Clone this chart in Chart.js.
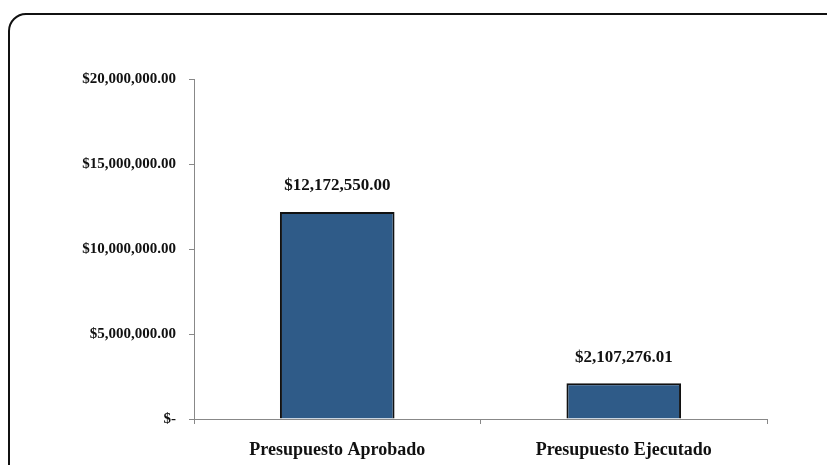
<!DOCTYPE html>
<html>
<head>
<meta charset="utf-8">
<script src="https://cdn.jsdelivr.net/npm/chart.js@4"></script>
<style>
  html, body { margin: 0; padding: 0; background: #fff; }
  #wrap { position: relative; width: 827px; height: 465px; overflow: hidden; }
  #marco { position: absolute; left: 8px; top: 13px; width: 840px; height: 470px;
           border: 2px solid #111; border-radius: 18px; box-sizing: border-box; }
  #miGrafica { position: absolute; left: 0; top: 0; }
</style>
</head>
<body>
<div id="wrap">
  <div id="marco"></div>
  <canvas id="miGrafica" width="827" height="465"></canvas>
</div>
<script>
// datos de la grafica
var categorias = ["Presupuesto Aprobado", "Presupuesto Ejecutado"];
var valores = [12172550.00, 2107276.01];
var ticksY = [0, 5000000, 10000000, 15000000, 20000000];

var fuente = "'Liberation Serif', 'DejaVu Serif', serif";

function moneda(v) {
    if (v === 0) return "$-";
    return "$" + v.toLocaleString("en-US", { minimumFractionDigits: 2, maximumFractionDigits: 2 });
}

// etiquetas encima de cada barra
var etiquetas = {
    id: "etiquetas",
    afterDatasetsDraw: function(chart) {
        var ctx = chart.ctx;
        var meta = chart.getDatasetMeta(0);
        ctx.save();
        ctx.font = "bold 17px " + fuente;
        ctx.fillStyle = "#111";
        ctx.textAlign = "center";
        ctx.textBaseline = "middle";
        meta.data.forEach(function(bar, i) {
            ctx.fillText(moneda(valores[i]), bar.x, bar.y - 26);
        });
        ctx.restore();
    }
};

document.addEventListener("DOMContentLoaded", function() {
    var ctx = document.getElementById("miGrafica").getContext("2d");

    var myChart = new Chart(ctx, {
        type: "bar",
        data: {
            labels: categorias,
            datasets: [{
                data: valores,
                backgroundColor: "#2f5b88",
                borderColor: "#111",
                borderWidth: 2,
                barPercentage: 0.8,
                categoryPercentage: 0.5
            }]
        },
        options: {
            responsive: false,
            animation: false,
            layout: { padding: { top: 79, right: 60, left: 0, bottom: 0 } },
            plugins: {
                legend: { display: false },
                tooltip: { enabled: false }
            },
            scales: {
                y: {
                    min: 0,
                    max: 20000000,
                    afterFit: function(s) { s.width = 194; },
                    afterBuildTicks: function(s) {
                        s.ticks = ticksY.map(function(v) { return { value: v }; });
                    },
                    grid: { drawOnChartArea: false, drawTicks: true, tickLength: 5, color: "#888" },
                    border: { display: true, color: "#888", width: 1 },
                    ticks: {
                        padding: 13,
                        color: "#111",
                        font: { family: fuente, size: 15, weight: "bold" },
                        callback: function(v) { return moneda(v); }
                    }
                },
                x: {
                    afterFit: function(s) { s.height = 46; },
                    grid: { drawOnChartArea: false, drawTicks: true, tickLength: 5, color: "#888", offset: true },
                    border: { display: true, color: "#888", width: 1 },
                    ticks: {
                        padding: 16,
                        color: "#111",
                        font: { family: fuente, size: 18, weight: "bold" }
                    }
                }
            }
        },
        plugins: [etiquetas]
    });
});
</script>
</body>
</html>
